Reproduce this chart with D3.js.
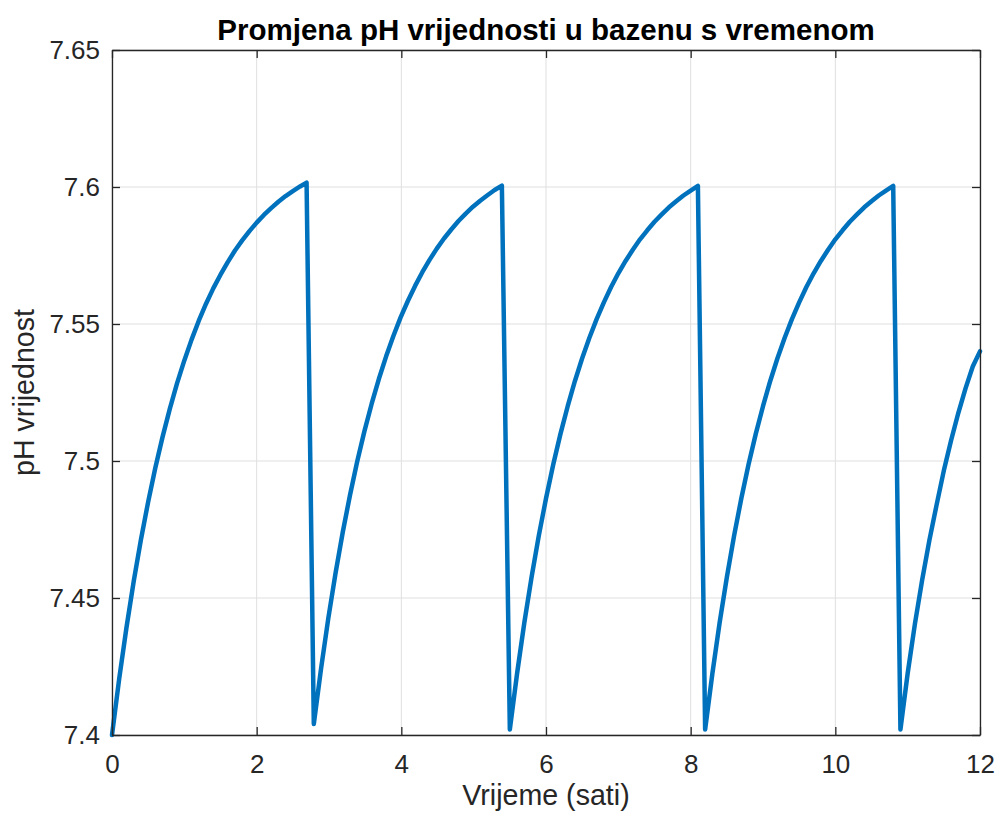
<!DOCTYPE html>
<html>
<head>
<meta charset="utf-8">
<script src="https://cdn.jsdelivr.net/npm/d3@7"></script>
<style>
  body { margin: 0; background: #fff; }
  svg text { font-family: "Liberation Sans", Arial, Helvetica, sans-serif; fill: #262626; }
</style>
</head>
<body>
<div id="chart"></div>
<script>
// pH readings per dosing cycle (time in hours)
var cycle1Time = [0,0.1,0.2,0.3,0.4,0.5,0.6,0.7,0.8,0.9,1.0,1.1,1.2,1.3,1.4,1.5,1.6,1.7,1.8,1.9,2.0,2.1,2.2,2.3,2.4,2.5,2.6,2.69];
var cycle1PH = [7.4000,7.4206,7.4392,7.4561,7.4713,7.4851,7.4976,7.5089,7.5191,7.5284,7.5367,7.5443,7.5512,7.5574,7.5630,7.5680,7.5726,7.5768,7.5805,7.5839,7.5870,7.5898,7.5923,7.5946,7.5967,7.5985,7.6002,7.6016];

var cycle2Time = [2.79,2.89,2.99,3.09,3.19,3.29,3.39,3.49,3.59,3.69,3.79,3.89,3.99,4.09,4.19,4.29,4.39,4.49,4.59,4.69,4.79,4.89,4.99,5.09,5.19,5.29,5.39];
var cycle2PH = [7.4040,7.4242,7.4425,7.4590,7.4740,7.4875,7.4998,7.5109,7.5209,7.5300,7.5382,7.5456,7.5524,7.5584,7.5639,7.5689,7.5734,7.5775,7.5812,7.5845,7.5876,7.5903,7.5928,7.5950,7.5970,7.5989,7.6005];

var cycle3Time = [5.5,5.6,5.7,5.8,5.9,6.0,6.1,6.2,6.3,6.4,6.5,6.6,6.7,6.8,6.9,7.0,7.1,7.2,7.3,7.4,7.5,7.6,7.7,7.8,7.9,8.0,8.1];
var cycle3PH = [7.4020,7.4224,7.4409,7.4575,7.4727,7.4863,7.4987,7.5099,7.5200,7.5292,7.5375,7.5450,7.5518,7.5579,7.5635,7.5685,7.5730,7.5771,7.5809,7.5842,7.5873,7.5900,7.5926,7.5948,7.5969,7.5987,7.6004];

var cycle4Time = [8.2,8.3,8.4,8.5,8.6,8.7,8.8,8.9,9.0,9.1,9.2,9.3,9.4,9.5,9.6,9.7,9.8,9.9,10.0,10.1,10.2,10.3,10.4,10.5,10.6,10.7,10.8];
var cycle4PH = [7.4020,7.4224,7.4409,7.4575,7.4727,7.4863,7.4987,7.5099,7.5200,7.5292,7.5375,7.5450,7.5518,7.5579,7.5635,7.5685,7.5730,7.5771,7.5809,7.5842,7.5873,7.5900,7.5926,7.5948,7.5969,7.5987,7.6004];

var cycle5Time = [10.9,11.0,11.1,11.2,11.3,11.4,11.5,11.6,11.7,11.8,11.9,12.0];
var cycle5PH = [7.4020,7.4225,7.4405,7.4565,7.4710,7.4840,7.4965,7.5075,7.5175,7.5265,7.5345,7.5400];

var xTicks = [0,2,4,6,8,10,12];
var yTicks = [7.4,7.45,7.5,7.55,7.6,7.65];
var yTickLabels = ["7.4","7.45","7.5","7.55","7.6","7.65"];

var titleText = "Promjena pH vrijednosti u bazenu s vremenom";
var xLabelText = "Vrijeme (sati)";
var yLabelText = "pH vrijednost";

var svgWidth = 998, svgHeight = 822;
var margin = {top: 50, right: 18, bottom: 87, left: 112},
    width = svgWidth - margin.left - margin.right,
    height = svgHeight - margin.top - margin.bottom;

var times = cycle1Time.concat(cycle2Time, cycle3Time, cycle4Time, cycle5Time);
var phs = cycle1PH.concat(cycle2PH, cycle3PH, cycle4PH, cycle5PH);
var data = times.map((t, i) => [t, phs[i]]);

var xscale = d3.scaleLinear().domain([0, 12]).range([0, width]);
var yscale = d3.scaleLinear().domain([7.4, 7.65]).range([height, 0]);

var svg = d3.select("#chart").append("svg")
  .attr("width", svgWidth)
  .attr("height", svgHeight);

var g = svg.append("g")
  .attr("transform", "translate(" + margin.left + "," + margin.top + ")");

// grid
g.selectAll(".gx").data(xTicks).enter().append("line")
  .attr("x1", d => xscale(d)).attr("x2", d => xscale(d))
  .attr("y1", 0).attr("y2", height)
  .attr("stroke", "#dfdfdf").attr("stroke-width", 1);
g.selectAll(".gy").data(yTicks).enter().append("line")
  .attr("y1", d => yscale(d)).attr("y2", d => yscale(d))
  .attr("x1", 0).attr("x2", width)
  .attr("stroke", "#dfdfdf").attr("stroke-width", 1);

// curve
g.append("path")
  .datum(data)
  .attr("fill", "none")
  .attr("stroke", "#0072BD")
  .attr("stroke-width", 4.5)
  .attr("stroke-linejoin", "round")
  .attr("stroke-linecap", "round")
  .attr("d", d3.line().x(d => xscale(d[0])).y(d => yscale(d[1])));

// axes
var xAxis = d3.axisBottom(xscale).tickValues(xTicks).tickSizeInner(-8).tickSizeOuter(0).tickPadding(20);
var yAxis = d3.axisLeft(yscale).tickValues(yTicks).tickFormat((d, i) => yTickLabels[i]).tickSizeInner(-8).tickSizeOuter(0).tickPadding(12);
var xTop = d3.axisTop(xscale).tickValues(xTicks).tickSizeInner(-8).tickSizeOuter(0).tickFormat("");
var yRight = d3.axisRight(yscale).tickValues(yTicks).tickSizeInner(-8).tickSizeOuter(0).tickFormat("");

function styleAxis(sel) {
  sel.selectAll("path").attr("stroke", "#262626").attr("stroke-width", 1.3);
  sel.selectAll("line").attr("stroke", "#262626").attr("stroke-width", 1.3);
  sel.selectAll("text").attr("font-size", 26).attr("fill", "#262626")
    .attr("font-family", "'Liberation Sans', Arial, sans-serif");
}

g.append("g").attr("transform", "translate(0," + height + ")").call(xAxis).call(styleAxis);
g.append("g").call(yAxis).call(styleAxis);
g.append("g").call(xTop).call(styleAxis);
g.append("g").attr("transform", "translate(" + width + ",0)").call(yRight).call(styleAxis);

// title and labels
svg.append("text")
  .attr("x", margin.left + width / 2)
  .attr("y", 40)
  .attr("text-anchor", "middle")
  .attr("font-size", 29.5)
  .attr("font-weight", "bold")
  .style("fill", "#000")
  .text(titleText);

svg.append("text")
  .attr("x", margin.left + width / 2)
  .attr("y", 805)
  .attr("text-anchor", "middle")
  .attr("font-size", 28.6)
  .text(xLabelText);

svg.append("text")
  .attr("transform", "translate(34," + (margin.top + height / 2) + ") rotate(-90)")
  .attr("text-anchor", "middle")
  .attr("font-size", 28.6)
  .text(yLabelText);
</script>
</body>
</html>
